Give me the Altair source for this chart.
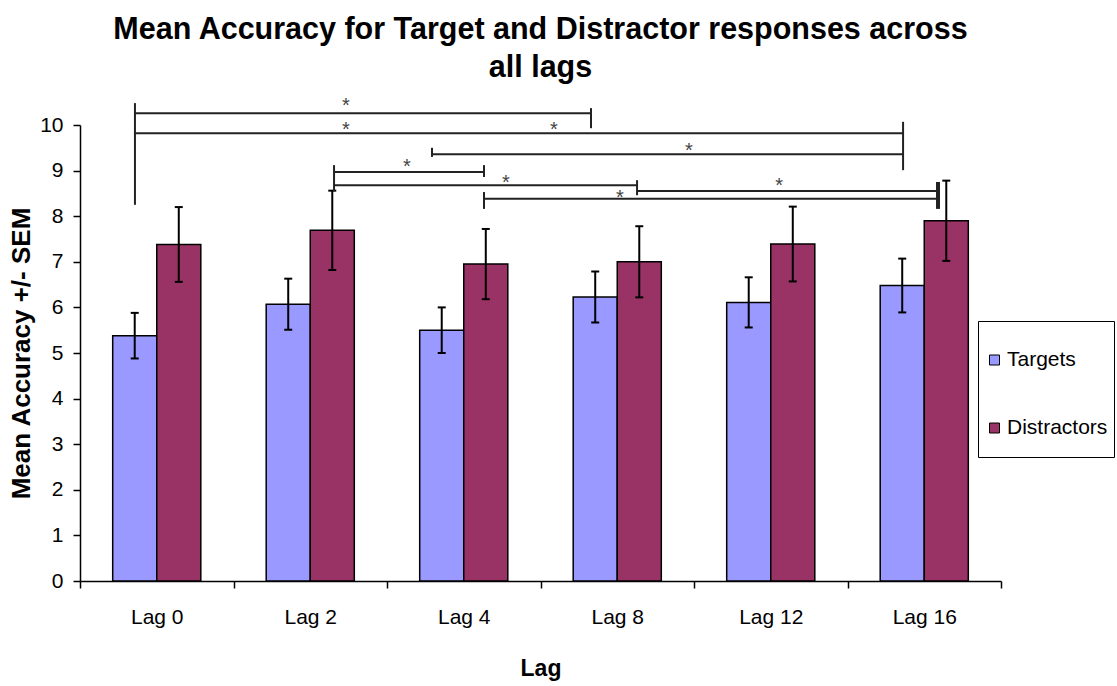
import altair as alt
import pandas as pd

# ---------------- data ----------------
lags = ["Lag 0", "Lag 2", "Lag 4", "Lag 8", "Lag 12", "Lag 16"]
series = ["Targets", "Distractors"]
targets_mean = [5.38, 6.07, 5.50, 6.23, 6.11, 6.48]
targets_sem = [0.50, 0.56, 0.50, 0.56, 0.55, 0.59]
distractors_mean = [7.38, 7.69, 6.95, 7.00, 7.39, 7.90]
distractors_sem = [0.82, 0.87, 0.77, 0.78, 0.82, 0.88]

# significance brackets (x in category units: 0 = Lag 0 centre; y in accuracy units)
hline_x1 = [-0.142, -0.142, 1.793, 1.155, 1.155, 3.129, 2.132]
hline_x2 = [2.829, 4.862, 4.862, 2.132, 3.129, 5.083, 5.083]
hline_y = [10.26, 9.82, 9.36, 8.97, 8.68, 8.55, 8.38]

vline_x = [-0.142, 2.829, 4.862, 1.793, 1.155, 2.132, 3.129, 2.132, 5.083, 5.096]
vline_y1 = [10.48, 10.37, 10.07, 9.50, 9.12, 9.12, 8.79, 8.53, 8.75, 8.75]
vline_y2 = [8.25, 9.93, 9.01, 9.30, 8.55, 8.86, 8.46, 8.16, 8.16, 8.16]

star_x = [1.233, 1.233, 2.588, 3.467, 1.630, 2.275, 4.054, 3.018]
star_y = [10.53, 10.02, 10.02, 9.54, 9.19, 8.84, 8.79, 8.53]

colors = ["#9999FF", "#993366"]

# ---------------- layout constants ----------------
FONT = "Liberation Sans"
W, H = 921, 456
BAR_W = 0.287  # width of one bar in category units

rows = []
for i, lag in enumerate(lags):
    for s, means, sems, off in (("Targets", targets_mean, targets_sem, -1),
                                ("Distractors", distractors_mean, distractors_sem, 1)):
        m, e = means[i], sems[i]
        x0 = i if off > 0 else i - BAR_W
        x1 = i + BAR_W if off > 0 else i
        rows.append(dict(lag=lag, series=s, mean=m, base=0.0, lo=m - e, hi=m + e,
                         x0=x0, x1=x1, xc=(x0 + x1) / 2))
df = pd.DataFrame(rows)

hdf = pd.DataFrame(dict(x1=hline_x1, x2=hline_x2, y=hline_y))
vdf = pd.DataFrame(dict(x=vline_x, y1=vline_y1, y2=vline_y2))
sdf = pd.DataFrame(dict(x=star_x, y=star_y, t=["*"] * len(star_x)))

xscale = alt.Scale(domain=[-0.5, len(lags) - 0.5], nice=False, zero=False)
yscale = alt.Scale(domain=[0, 10], nice=False)

label_list = "[" + ",".join("'%s'" % l for l in lags) + "]"
xaxis = alt.Axis(
    values=[k - 0.5 for k in range(len(lags) + 1)],
    labelExpr="datum.value > %f ? '' : %s[round(datum.value + 0.5)]" % (len(lags) - 1, label_list),
    labelOffset=W / len(lags) / 2,
    tickSize=7, tickColor="black", tickWidth=1.5,
    domainColor="black", domainWidth=1.5,
    labelFontSize=21, labelColor="black", labelFont=FONT,
    labelPadding=18, labelFlush=False, labelOverlap=False, labelBound=False,
    titleFontSize=23, titleFontWeight="bold", titleColor="black", titleFont=FONT,
    titlePadding=30, grid=False,
)
yaxis = alt.Axis(
    values=list(range(0, 11)), tickSize=7, tickColor="black", tickWidth=1.5,
    domainColor="black", domainWidth=1.5,
    labelFontSize=21, labelColor="black", labelFont=FONT, labelPadding=10,
    titleFontSize=26, titleFontWeight="bold", titleColor="black", titleFont=FONT,
    titlePadding=5, grid=False,
)

legend = alt.Legend(
    orient="none", legendX=898, legendY=196, title=" ", titleFontSize=10,
    titlePadding=0, padding=6, strokeColor="black", fillColor="white",
    labelFontSize=21, labelFont=FONT, labelColor="black", symbolType="square",
    symbolSize=100, symbolStrokeColor="black", symbolStrokeWidth=1,
    rowPadding=22, clipHeight=46, labelOffset=2, symbolOpacity=1,
)

bars = alt.Chart(df).mark_bar(stroke="black", strokeWidth=1.5).encode(
    x=alt.X("x0:Q", scale=xscale, axis=xaxis, title="Lag"),
    x2="x1:Q",
    y=alt.Y("mean:Q", scale=yscale, axis=yaxis, title="Mean Accuracy +/- SEM"),
    y2="base:Q",
    color=alt.Color("series:N", sort=series,
                    scale=alt.Scale(domain=series, range=colors), legend=legend),
)

err = alt.Chart(df).mark_rule(color="black", strokeWidth=2).encode(
    x=alt.X("xc:Q", scale=xscale), y=alt.Y("lo:Q", scale=yscale), y2="hi:Q")
cap_lo = alt.Chart(df).mark_tick(orient="horizontal", color="black", size=8,
                                 thickness=2, opacity=1).encode(
    x=alt.X("xc:Q", scale=xscale), y=alt.Y("lo:Q", scale=yscale))
cap_hi = alt.Chart(df).mark_tick(orient="horizontal", color="black", size=8,
                                 thickness=2, opacity=1).encode(
    x=alt.X("xc:Q", scale=xscale), y=alt.Y("hi:Q", scale=yscale))

hl = alt.Chart(hdf).mark_rule(color="#222222", strokeWidth=2).encode(
    x=alt.X("x1:Q", scale=xscale), x2="x2:Q", y=alt.Y("y:Q", scale=yscale))
vl = alt.Chart(vdf).mark_rule(color="#222222", strokeWidth=2).encode(
    x=alt.X("x:Q", scale=xscale), y=alt.Y("y1:Q", scale=yscale), y2="y2:Q")
stars = alt.Chart(sdf).mark_text(fontSize=20, font=FONT, baseline="alphabetic",
                                 dy=11.5, color="#444444").encode(
    x=alt.X("x:Q", scale=xscale), y=alt.Y("y:Q", scale=yscale), text="t:N")

chart = alt.layer(bars, err, cap_lo, cap_hi, hl, vl, stars).properties(
    width=W, height=H,
    background="white",
    padding={"left": 80, "top": 125, "right": 116, "bottom": 105},
    autosize=alt.AutoSizeParams(type="none"),
    title=alt.Title(
        ["Mean Accuracy for Target and Distractor responses across", "all lags"],
        fontSize=30.5, fontWeight="bold", font=FONT, color="black",
        frame="group", anchor="middle", offset=13, lineHeight=38,
    ),
).configure(font=FONT).configure_view(stroke="transparent", strokeWidth=0)

chart.save("out.html", embed_options={"renderer": "svg", "actions": False})
